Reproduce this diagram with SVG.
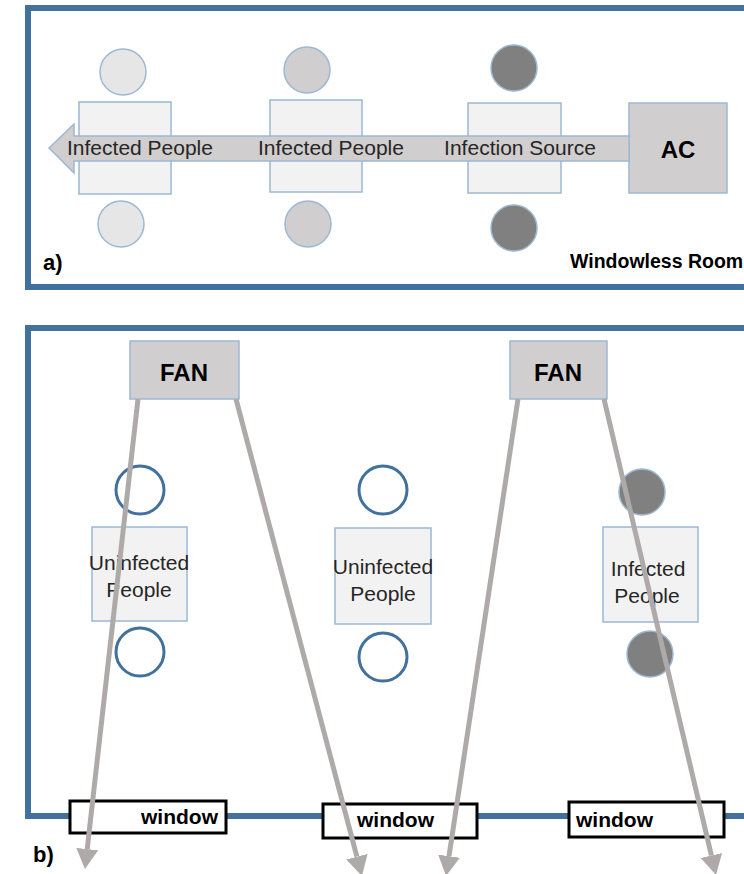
<svg xmlns="http://www.w3.org/2000/svg" width="744" height="874" viewBox="0 0 744 874">
  <style>
    .room { fill: #ffffff; stroke: #41719c; stroke-width: 6; }
    .body { fill: #f2f2f2; stroke: #9db8d3; stroke-width: 1.5; }
    .head { stroke: #9db8d3; stroke-width: 1.5; }
    .h-light { fill: #e7e6e6; }
    .h-mid { fill: #d0cece; }
    .h-dark { fill: #808080; }
    .h-open { fill: #ffffff; stroke: #41719c; stroke-width: 3; }
    .unit { fill: #d0cece; stroke: #9db8d3; stroke-width: 1.5; }
    .window { fill: #ffffff; stroke: #000000; stroke-width: 3; }
    .lbl { font-family: "Liberation Sans", Arial, sans-serif; font-size: 21px; fill: #262626; }
    .bold { font-family: "Liberation Sans", Arial, sans-serif; font-weight: bold; fill: #000000; }
    .flow { stroke: #aeaaaa; stroke-width: 5; fill: none; marker-end: url(#head); }
  </style>
  <defs>
    <marker id="head" markerUnits="userSpaceOnUse" markerWidth="22" markerHeight="24" refX="0" refY="11" orient="auto">
      <path d="M0,0 L20,11 L0,22 Z" fill="#aeaaaa"/>
    </marker>
  </defs>

  <!-- a) windowless room with AC -->
  <g id="room-a">
    <rect class="room" x="28" y="8" width="740" height="279"/>
    <text class="bold" x="43" y="270" font-size="22">a)</text>
    <text class="bold" x="570" y="268" font-size="19.5">Windowless Room</text>
  </g>
  <g id="a-person1">
    <circle class="head h-light" cx="123" cy="72" r="23"/>
    <rect class="body" x="79" y="102" width="92" height="92"/>
    <circle class="head h-light" cx="121" cy="224" r="23"/>
  </g>
  <g id="a-person2">
    <circle class="head h-mid" cx="307" cy="70" r="23"/>
    <rect class="body" x="270" y="100" width="92" height="92"/>
    <circle class="head h-mid" cx="308" cy="224" r="23"/>
  </g>
  <g id="a-person3">
    <circle class="head h-dark" cx="514" cy="68" r="23"/>
    <rect class="body" x="468" y="103" width="93" height="90"/>
    <circle class="head h-dark" cx="514" cy="228" r="23"/>
  </g>
  <g id="a-ac">
    <rect class="unit" x="629" y="103" width="98" height="90"/>
    <text class="bold" x="678" y="158" font-size="24" text-anchor="middle">AC</text>
  </g>
  <g id="a-airflow">
    <polygon points="49,148 74,124 74,136 629,136 629,161 74,161 74,173" fill="#d0cece" stroke="#9db8d3" stroke-width="1.5"/>
    <text class="lbl" x="140" y="155" text-anchor="middle">Infected People</text>
    <text class="lbl" x="331" y="155" text-anchor="middle">Infected People</text>
    <text class="lbl" x="520" y="155" text-anchor="middle">Infection Source</text>
  </g>

  <!-- b) room with fans and windows -->
  <g id="room-b">
    <rect class="room" x="28" y="328" width="740" height="488"/>
    <text class="bold" x="33" y="862" font-size="22">b)</text>
  </g>
  <g id="fan1">
    <rect class="unit" x="130" y="341" width="109" height="58"/>
    <text class="bold" x="184" y="381" font-size="24" text-anchor="middle">FAN</text>
  </g>
  <g id="fan2">
    <rect class="unit" x="510" y="341" width="97" height="58"/>
    <text class="bold" x="558" y="381" font-size="24" text-anchor="middle">FAN</text>
  </g>
  <g id="b-person1">
    <circle class="h-open" cx="140" cy="490" r="24"/>
    <rect class="body" x="92" y="527" width="95" height="94"/>
    <circle class="h-open" cx="140" cy="652" r="24"/>
    <text class="lbl" x="139" y="570" text-anchor="middle">Uninfected</text>
    <text class="lbl" x="139" y="597" text-anchor="middle">People</text>
  </g>
  <g id="b-person2">
    <circle class="h-open" cx="383" cy="490" r="24"/>
    <rect class="body" x="335" y="528" width="96" height="96"/>
    <circle class="h-open" cx="383" cy="657" r="24"/>
    <text class="lbl" x="383" y="574" text-anchor="middle">Uninfected</text>
    <text class="lbl" x="383" y="601" text-anchor="middle">People</text>
  </g>
  <g id="b-person3">
    <circle class="head h-dark" cx="642" cy="492" r="23"/>
    <rect class="body" x="603" y="527" width="95" height="95"/>
    <circle class="head h-dark" cx="650" cy="654" r="23"/>
    <text class="lbl" x="648" y="576" text-anchor="middle">Infected</text>
    <text class="lbl" x="647" y="603" text-anchor="middle">People</text>
  </g>
  <g id="window1">
    <rect class="window" x="70" y="801" width="156" height="32"/>
    <text class="bold" x="218" y="824" font-size="21" text-anchor="end">window</text>
  </g>
  <g id="window2">
    <rect class="window" x="323" y="804" width="154" height="34"/>
    <text class="bold" x="357" y="827" font-size="21">window</text>
  </g>
  <g id="window3">
    <rect class="window" x="569" y="802" width="155" height="35"/>
    <text class="bold" x="576" y="827" font-size="21">window</text>
  </g>

  <!-- air streams from the fans out through the windows -->
  <g id="connectors">
    <line class="flow" x1="138" y1="399" x2="87.2" y2="849.1"/>
    <line class="flow" x1="236" y1="399" x2="356.9" y2="856.7"/>
    <line class="flow" x1="518" y1="399" x2="449" y2="856.2"/>
    <line class="flow" x1="604" y1="399" x2="711.4" y2="855.5"/>
  </g>
</svg>
